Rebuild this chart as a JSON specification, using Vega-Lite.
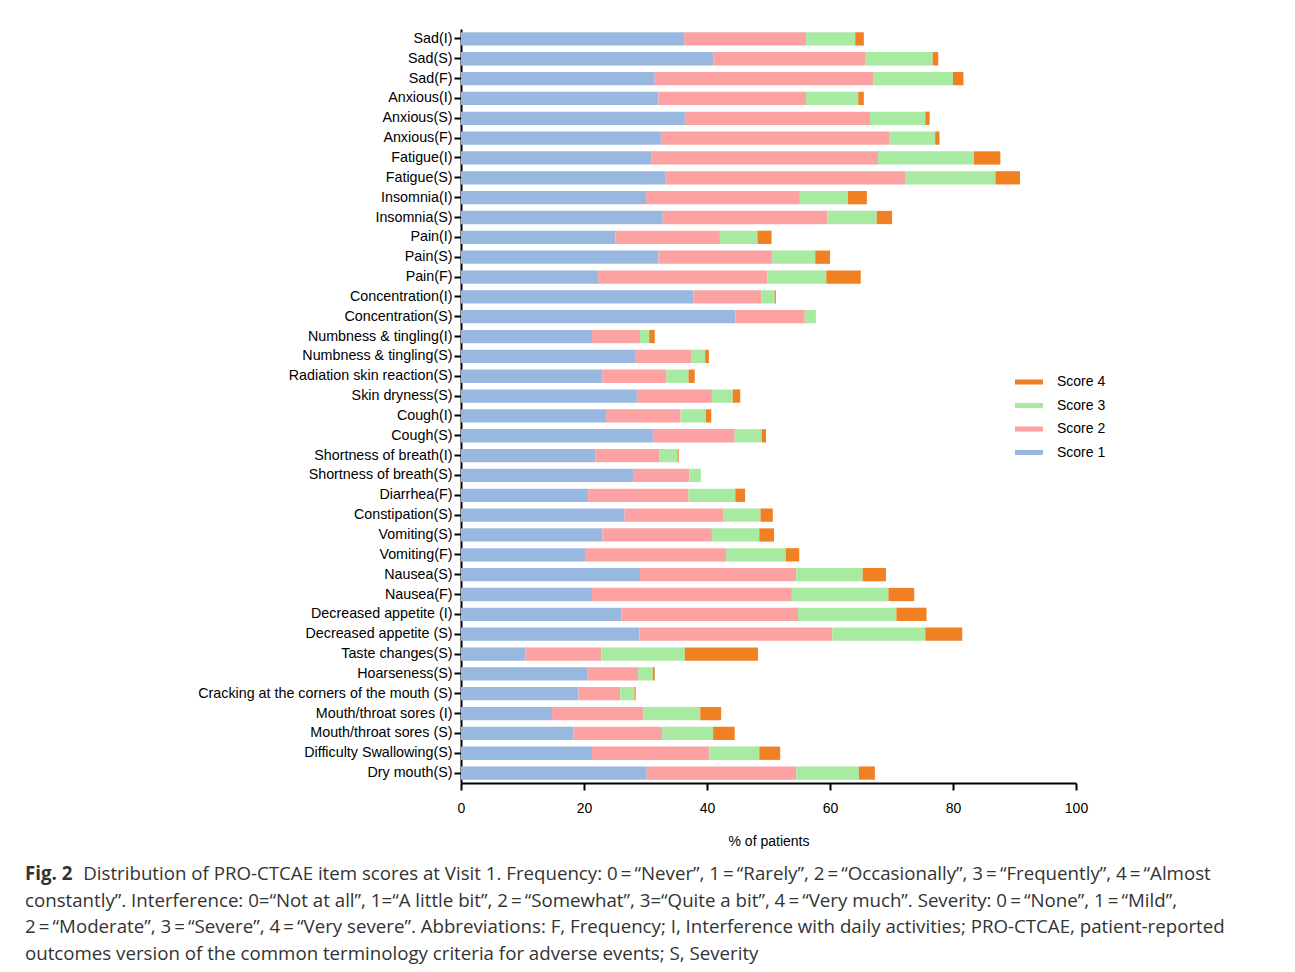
{
  "$schema": "https://vega.github.io/schema/vega-lite/v6.json",
  "width": 615,
  "height": 754,
  "autosize": {"type": "none"},
  "padding": {"left": 461, "top": 29, "right": 219, "bottom": 189},
  "background": "white",
  "config": {"view": {"stroke": null}, "font": "Liberation Sans"},
  "title": {
    "text": "Fig. 2",
    "subtitle": [
      "\u200b\u00a0\u00a0\u00a0\u00a0\u00a0\u00a0\u00a0\u00a0\u00a0\u00a0\u00a0\u00a0Distribution of PRO-CTCAE item scores at Visit 1. Frequency: 0\u2009=\u2009“Never”, 1\u2009=\u2009“Rarely”, 2\u2009=\u2009“Occasionally”, 3\u2009=\u2009“Frequently”, 4\u2009=\u2009“Almost",
      "constantly”. Interference: 0=“Not at all”, 1=“A little bit”, 2\u2009=\u2009“Somewhat”, 3=“Quite a bit”, 4\u2009=\u2009“Very much”. Severity: 0\u2009=\u2009“None”, 1\u2009=\u2009“Mild”,",
      "2\u2009=\u2009“Moderate”, 3\u2009=\u2009“Severe”, 4\u2009=\u2009“Very severe”. Abbreviations: F, Frequency; I, Interference with daily activities; PRO-CTCAE, patient-reported",
      "outcomes version of the common terminology criteria for adverse events; S, Severity"
    ],
    "orient": "bottom",
    "anchor": "start",
    "frame": "group",
    "dx": -436,
    "offset": 17,
    "font": "Open Sans",
    "fontSize": 18.7,
    "fontWeight": "bold",
    "color": "#333333",
    "subtitleFont": "Open Sans",
    "subtitleFontSize": 18.7,
    "subtitleColor": "#333333",
    "subtitlePadding": -18.7,
    "subtitleLineHeight": 26.7
  },
  "data": {"values": [
    {"item": "Sad(I)", "score": "Score 1", "pct": 36.3}, {"item": "Sad(I)", "score": "Score 2", "pct": 19.8}, {"item": "Sad(I)", "score": "Score 3", "pct": 8.0}, {"item": "Sad(I)", "score": "Score 4", "pct": 1.4},
    {"item": "Sad(S)", "score": "Score 1", "pct": 41.0}, {"item": "Sad(S)", "score": "Score 2", "pct": 24.8}, {"item": "Sad(S)", "score": "Score 3", "pct": 10.9}, {"item": "Sad(S)", "score": "Score 4", "pct": 0.9},
    {"item": "Sad(F)", "score": "Score 1", "pct": 31.5}, {"item": "Sad(F)", "score": "Score 2", "pct": 35.6}, {"item": "Sad(F)", "score": "Score 3", "pct": 12.9}, {"item": "Sad(F)", "score": "Score 4", "pct": 1.7},
    {"item": "Anxious(I)", "score": "Score 1", "pct": 32.1}, {"item": "Anxious(I)", "score": "Score 2", "pct": 24.0}, {"item": "Anxious(I)", "score": "Score 3", "pct": 8.5}, {"item": "Anxious(I)", "score": "Score 4", "pct": 0.9},
    {"item": "Anxious(S)", "score": "Score 1", "pct": 36.4}, {"item": "Anxious(S)", "score": "Score 2", "pct": 30.1}, {"item": "Anxious(S)", "score": "Score 3", "pct": 9.0}, {"item": "Anxious(S)", "score": "Score 4", "pct": 0.7},
    {"item": "Anxious(F)", "score": "Score 1", "pct": 32.5}, {"item": "Anxious(F)", "score": "Score 2", "pct": 37.2}, {"item": "Anxious(F)", "score": "Score 3", "pct": 7.4}, {"item": "Anxious(F)", "score": "Score 4", "pct": 0.7},
    {"item": "Fatigue(I)", "score": "Score 1", "pct": 31.0}, {"item": "Fatigue(I)", "score": "Score 2", "pct": 36.8}, {"item": "Fatigue(I)", "score": "Score 3", "pct": 15.6}, {"item": "Fatigue(I)", "score": "Score 4", "pct": 4.3},
    {"item": "Fatigue(S)", "score": "Score 1", "pct": 33.3}, {"item": "Fatigue(S)", "score": "Score 2", "pct": 38.9}, {"item": "Fatigue(S)", "score": "Score 3", "pct": 14.7}, {"item": "Fatigue(S)", "score": "Score 4", "pct": 4.0},
    {"item": "Insomnia(I)", "score": "Score 1", "pct": 30.1}, {"item": "Insomnia(I)", "score": "Score 2", "pct": 25.0}, {"item": "Insomnia(I)", "score": "Score 3", "pct": 7.8}, {"item": "Insomnia(I)", "score": "Score 4", "pct": 3.1},
    {"item": "Insomnia(S)", "score": "Score 1", "pct": 32.8}, {"item": "Insomnia(S)", "score": "Score 2", "pct": 26.8}, {"item": "Insomnia(S)", "score": "Score 3", "pct": 8.0}, {"item": "Insomnia(S)", "score": "Score 4", "pct": 2.5},
    {"item": "Pain(I)", "score": "Score 1", "pct": 25.1}, {"item": "Pain(I)", "score": "Score 2", "pct": 17.0}, {"item": "Pain(I)", "score": "Score 3", "pct": 6.1}, {"item": "Pain(I)", "score": "Score 4", "pct": 2.3},
    {"item": "Pain(S)", "score": "Score 1", "pct": 32.1}, {"item": "Pain(S)", "score": "Score 2", "pct": 18.5}, {"item": "Pain(S)", "score": "Score 3", "pct": 7.0}, {"item": "Pain(S)", "score": "Score 4", "pct": 2.4},
    {"item": "Pain(F)", "score": "Score 1", "pct": 22.3}, {"item": "Pain(F)", "score": "Score 2", "pct": 27.5}, {"item": "Pain(F)", "score": "Score 3", "pct": 9.6}, {"item": "Pain(F)", "score": "Score 4", "pct": 5.6},
    {"item": "Concentration(I)", "score": "Score 1", "pct": 37.8}, {"item": "Concentration(I)", "score": "Score 2", "pct": 11.0}, {"item": "Concentration(I)", "score": "Score 3", "pct": 2.2}, {"item": "Concentration(I)", "score": "Score 4", "pct": 0.2},
    {"item": "Concentration(S)", "score": "Score 1", "pct": 44.6}, {"item": "Concentration(S)", "score": "Score 2", "pct": 11.3}, {"item": "Concentration(S)", "score": "Score 3", "pct": 1.8}, {"item": "Concentration(S)", "score": "Score 4", "pct": 0},
    {"item": "Numbness & tingling(I)", "score": "Score 1", "pct": 21.3}, {"item": "Numbness & tingling(I)", "score": "Score 2", "pct": 7.8}, {"item": "Numbness & tingling(I)", "score": "Score 3", "pct": 1.5}, {"item": "Numbness & tingling(I)", "score": "Score 4", "pct": 0.9},
    {"item": "Numbness & tingling(S)", "score": "Score 1", "pct": 28.3}, {"item": "Numbness & tingling(S)", "score": "Score 2", "pct": 9.1}, {"item": "Numbness & tingling(S)", "score": "Score 3", "pct": 2.3}, {"item": "Numbness & tingling(S)", "score": "Score 4", "pct": 0.6},
    {"item": "Radiation skin reaction(S)", "score": "Score 1", "pct": 23.0}, {"item": "Radiation skin reaction(S)", "score": "Score 2", "pct": 10.4}, {"item": "Radiation skin reaction(S)", "score": "Score 3", "pct": 3.6}, {"item": "Radiation skin reaction(S)", "score": "Score 4", "pct": 1.0},
    {"item": "Skin dryness(S)", "score": "Score 1", "pct": 28.6}, {"item": "Skin dryness(S)", "score": "Score 2", "pct": 12.2}, {"item": "Skin dryness(S)", "score": "Score 3", "pct": 3.4}, {"item": "Skin dryness(S)", "score": "Score 4", "pct": 1.2},
    {"item": "Cough(I)", "score": "Score 1", "pct": 23.6}, {"item": "Cough(I)", "score": "Score 2", "pct": 12.1}, {"item": "Cough(I)", "score": "Score 3", "pct": 4.1}, {"item": "Cough(I)", "score": "Score 4", "pct": 0.9},
    {"item": "Cough(S)", "score": "Score 1", "pct": 31.2}, {"item": "Cough(S)", "score": "Score 2", "pct": 13.3}, {"item": "Cough(S)", "score": "Score 3", "pct": 4.4}, {"item": "Cough(S)", "score": "Score 4", "pct": 0.7},
    {"item": "Shortness of breath(I)", "score": "Score 1", "pct": 21.9}, {"item": "Shortness of breath(I)", "score": "Score 2", "pct": 10.4}, {"item": "Shortness of breath(I)", "score": "Score 3", "pct": 2.9}, {"item": "Shortness of breath(I)", "score": "Score 4", "pct": 0.2},
    {"item": "Shortness of breath(S)", "score": "Score 1", "pct": 28.1}, {"item": "Shortness of breath(S)", "score": "Score 2", "pct": 9.0}, {"item": "Shortness of breath(S)", "score": "Score 3", "pct": 1.9}, {"item": "Shortness of breath(S)", "score": "Score 4", "pct": 0},
    {"item": "Diarrhea(F)", "score": "Score 1", "pct": 20.7}, {"item": "Diarrhea(F)", "score": "Score 2", "pct": 16.3}, {"item": "Diarrhea(F)", "score": "Score 3", "pct": 7.6}, {"item": "Diarrhea(F)", "score": "Score 4", "pct": 1.6},
    {"item": "Constipation(S)", "score": "Score 1", "pct": 26.6}, {"item": "Constipation(S)", "score": "Score 2", "pct": 16.0}, {"item": "Constipation(S)", "score": "Score 3", "pct": 6.1}, {"item": "Constipation(S)", "score": "Score 4", "pct": 2.0},
    {"item": "Vomiting(S)", "score": "Score 1", "pct": 23.0}, {"item": "Vomiting(S)", "score": "Score 2", "pct": 17.8}, {"item": "Vomiting(S)", "score": "Score 3", "pct": 7.7}, {"item": "Vomiting(S)", "score": "Score 4", "pct": 2.4},
    {"item": "Vomiting(F)", "score": "Score 1", "pct": 20.3}, {"item": "Vomiting(F)", "score": "Score 2", "pct": 22.8}, {"item": "Vomiting(F)", "score": "Score 3", "pct": 9.7}, {"item": "Vomiting(F)", "score": "Score 4", "pct": 2.2},
    {"item": "Nausea(S)", "score": "Score 1", "pct": 29.1}, {"item": "Nausea(S)", "score": "Score 2", "pct": 25.4}, {"item": "Nausea(S)", "score": "Score 3", "pct": 10.8}, {"item": "Nausea(S)", "score": "Score 4", "pct": 3.8},
    {"item": "Nausea(F)", "score": "Score 1", "pct": 21.3}, {"item": "Nausea(F)", "score": "Score 2", "pct": 32.5}, {"item": "Nausea(F)", "score": "Score 3", "pct": 15.7}, {"item": "Nausea(F)", "score": "Score 4", "pct": 4.2},
    {"item": "Decreased appetite (I)", "score": "Score 1", "pct": 26.1}, {"item": "Decreased appetite (I)", "score": "Score 2", "pct": 28.7}, {"item": "Decreased appetite (I)", "score": "Score 3", "pct": 16.0}, {"item": "Decreased appetite (I)", "score": "Score 4", "pct": 4.9},
    {"item": "Decreased appetite (S)", "score": "Score 1", "pct": 29.0}, {"item": "Decreased appetite (S)", "score": "Score 2", "pct": 31.4}, {"item": "Decreased appetite (S)", "score": "Score 3", "pct": 15.1}, {"item": "Decreased appetite (S)", "score": "Score 4", "pct": 6.0},
    {"item": "Taste changes(S)", "score": "Score 1", "pct": 10.5}, {"item": "Taste changes(S)", "score": "Score 2", "pct": 12.3}, {"item": "Taste changes(S)", "score": "Score 3", "pct": 13.6}, {"item": "Taste changes(S)", "score": "Score 4", "pct": 11.9},
    {"item": "Hoarseness(S)", "score": "Score 1", "pct": 20.6}, {"item": "Hoarseness(S)", "score": "Score 2", "pct": 8.2}, {"item": "Hoarseness(S)", "score": "Score 3", "pct": 2.4}, {"item": "Hoarseness(S)", "score": "Score 4", "pct": 0.3},
    {"item": "Cracking at the corners of the mouth (S)", "score": "Score 1", "pct": 19.1}, {"item": "Cracking at the corners of the mouth (S)", "score": "Score 2", "pct": 6.8}, {"item": "Cracking at the corners of the mouth (S)", "score": "Score 3", "pct": 2.3}, {"item": "Cracking at the corners of the mouth (S)", "score": "Score 4", "pct": 0.2},
    {"item": "Mouth/throat sores (I)", "score": "Score 1", "pct": 14.8}, {"item": "Mouth/throat sores (I)", "score": "Score 2", "pct": 14.9}, {"item": "Mouth/throat sores (I)", "score": "Score 3", "pct": 9.2}, {"item": "Mouth/throat sores (I)", "score": "Score 4", "pct": 3.4},
    {"item": "Mouth/throat sores (S)", "score": "Score 1", "pct": 18.3}, {"item": "Mouth/throat sores (S)", "score": "Score 2", "pct": 14.4}, {"item": "Mouth/throat sores (S)", "score": "Score 3", "pct": 8.3}, {"item": "Mouth/throat sores (S)", "score": "Score 4", "pct": 3.5},
    {"item": "Difficulty Swallowing(S)", "score": "Score 1", "pct": 21.3}, {"item": "Difficulty Swallowing(S)", "score": "Score 2", "pct": 19.1}, {"item": "Difficulty Swallowing(S)", "score": "Score 3", "pct": 8.1}, {"item": "Difficulty Swallowing(S)", "score": "Score 4", "pct": 3.4},
    {"item": "Dry mouth(S)", "score": "Score 1", "pct": 30.2}, {"item": "Dry mouth(S)", "score": "Score 2", "pct": 24.3}, {"item": "Dry mouth(S)", "score": "Score 3", "pct": 10.2}, {"item": "Dry mouth(S)", "score": "Score 4", "pct": 2.6}
  ]},
  "mark": {"type": "bar"},
  "encoding": {
    "y": {
      "field": "item", "type": "nominal", "sort": null,
      "scale": {"paddingInner": 0.33, "paddingOuter": 0.165},
      "axis": {"title": null, "labelFont": "Liberation Sans", "labelFontSize": 14.3, "labelColor": "black", "tickColor": "black", "tickSize": 7, "tickWidth": 2, "domainColor": "black", "domainWidth": 2, "labelPadding": 2, "labelLimit": 0}
    },
    "x": {
      "field": "pct", "type": "quantitative", "stack": "zero",
      "scale": {"domain": [0, 100]},
      "axis": {"title": "% of patients", "values": [0, 20, 40, 60, 80, 100], "grid": false, "labelFlush": false, "tickSize": 7, "tickWidth": 2, "tickColor": "black", "domainColor": "black", "domainWidth": 2, "labelFont": "Liberation Sans", "labelFontSize": 14, "labelColor": "black", "labelPadding": 11, "titleFont": "Liberation Sans", "titleFontSize": 14, "titleFontWeight": "normal", "titlePadding": 19, "titleColor": "black"}
    },
    "color": {
      "field": "score", "type": "nominal",
      "scale": {"domain": ["Score 4", "Score 3", "Score 2", "Score 1"], "range": ["#f18022", "#a9eaa3", "#fca2a2", "#98b8e0"]},
      "legend": {"title": null, "orient": "none", "legendX": 554, "legendY": 339, "direction": "vertical", "symbolType": "M-1,-0.18L1,-0.18L1,0.18L-1,0.18Z", "symbolSize": 784, "symbolStrokeWidth": 0, "labelFont": "Liberation Sans", "labelFontSize": 14, "labelColor": "black", "labelOffset": 14, "rowPadding": 2.5}
    },
    "order": {"field": "score", "sort": "ascending"}
  }
}
